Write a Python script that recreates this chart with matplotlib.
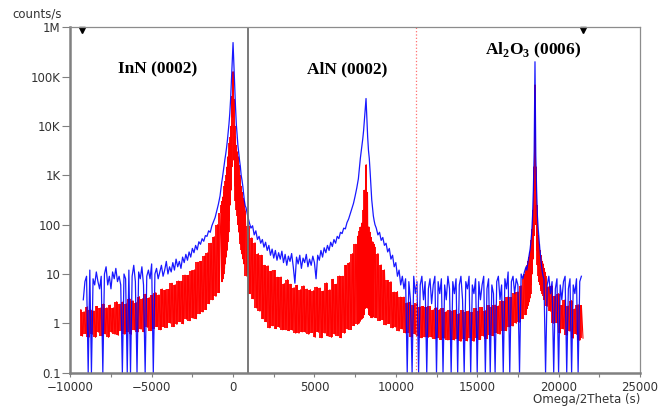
import numpy as np
import matplotlib.pyplot as plt

# scan segments: (first angle, step, counts/s) -- finer steps across the peaks
blue_left = [3, 7, 9, 0.1, 12, 0.1, 8, 6, 11, 7, 5, 9, 0.1, 10, 14, 6, 9, 5, 11, 8,
             13, 7, 9, 6, 0.1, 10, 8, 0.1, 12, 0.1, 9, 15, 7, 0.1, 11, 8, 14, 6, 0.1, 9,
             12, 8, 16, 0.1, 10, 13, 8, 11, 15, 9, 12, 18, 10, 14, 11, 17, 12, 20, 14, 18,
             13, 22, 17, 25, 19, 28, 22, 33, 27, 38, 31, 45, 40, 52, 46, 60, 58, 75, 70, 95,
             115, 140, 190, 260, 380]
blue_inn = [520, 700, 900, 1200, 1600, 2100, 2700, 3600, 5000, 7500, 11000, 18000, 35000,
            80000, 200000, 490000, 180000, 60000, 25000, 11000, 6500, 4000, 2800, 2000,
            1500, 1000, 800, 600, 420, 300, 240]
blue_mid = [220, 150, 110, 85, 95, 62, 75, 50, 58, 42, 50, 35, 44, 30, 38, 24, 32, 21, 30, 19,
            27, 20, 29, 17, 25, 15, 23, 18, 26, 14, 6.5, 22, 16, 24, 13, 21, 17, 25, 14, 20,
            15, 23, 17, 8, 24, 19, 30, 22, 34, 27, 38, 30, 44, 36, 50, 42, 58, 52, 70, 66,
            85, 82, 110, 130, 165, 210, 270, 380, 550, 850]
blue_aln = [1500, 2200, 3000, 4000, 5500, 8000, 13000, 22000, 36000, 15000, 6000, 3200,
            2200, 1200, 600, 320, 220, 150, 120, 100]
blue_flat = [85, 62, 70, 48, 55, 38, 42, 28, 33, 20, 24, 14, 17, 9, 12, 6, 9, 5, 8, 0.1,
             7, 3, 0.1, 9, 4, 7, 0.1, 6, 9, 3, 7, 0.1, 5, 8, 2.5, 6, 9, 0.1, 7, 4,
             8, 0.1, 6, 3, 9, 5, 0.1, 7, 4, 8, 0.1, 6, 9, 3, 0.1, 7, 5, 9, 0.1, 6,
             4, 8, 0.1, 7, 3, 6, 9, 0.1, 5, 8, 0.1, 6, 4, 0.1, 7, 9, 3, 6, 0.1, 8,
             5, 11, 0.1, 7, 9, 4, 8, 6, 0.1, 10, 8, 11, 14]
blue_sap = [12, 16, 20, 25, 32, 45, 70, 150, 500, 3000, 200000, 2500, 500, 150, 80, 50,
            32, 22, 15, 11, 9]
blue_right = [8, 0.1, 6, 9, 4, 7, 0.1, 5, 8, 0.1, 6, 3, 7, 9, 0.1, 5, 8, 0.1, 6, 4,
              8, 0.1, 7, 9]

red_left = [1.9, 0.55, 1.72, 0.62, 2.16, 0.52, 1.9, 0.6, 1.79, 0.52, 2.2, 0.66, 2.04, 0.56,
            2.46, 0.61, 2.07, 0.52, 2.35, 0.66, 2.06, 0.6, 2.75, 0.57, 2.44, 0.71, 2.75, 0.6,
            2.49, 0.67, 3.16, 0.6, 2.88, 0.74, 2.64, 0.67, 3.47, 0.76, 3.16, 0.66, 3.89, 0.83,
            3.33, 0.71, 3.72, 0.78, 4.2, 0.86, 3.78, 0.74, 4.97, 0.86, 4.75, 0.82, 4.86, 1.01,
            6.5, 0.86, 6.05, 0.95, 7.2, 1.08, 7.1, 0.98, 9.5, 1.21, 9.4, 1.13, 11.7, 1.26,
            12.2, 1.24, 17.3, 1.57, 18, 1.7, 23, 1.9, 27, 2.5, 42, 3.0, 57, 3.5, 100, 4.2, 170]
red_inn = [250, 7, 300, 8, 370, 10, 450, 13, 600, 16, 750, 22, 1000, 30, 1500, 45, 2400,
           70, 3000, 120, 4500, 250, 6000, 500, 10000, 1500, 40000, 15000, 126000, 20000,
           35000, 2000, 10000, 600, 6000, 300, 4000, 200, 3000, 150, 2400, 100, 1600, 70,
           1000, 50, 800, 40, 600, 30, 450, 25, 350, 20, 300, 16, 220]
red_mid = [190, 9, 95, 4, 54, 3.15, 43, 2.05, 26, 1.76, 24, 1.24, 15, 1.08, 14.7, 0.81, 11.4,
           0.89, 11.8, 0.78, 8.6, 0.83, 8.7, 0.74, 6.4, 0.74, 7.7, 0.71, 6.2, 0.73, 5.3, 0.63,
           5.9, 0.63, 4.8, 0.67, 5.75, 0.66, 4.95, 0.6, 4.8, 0.65, 4.6, 0.52, 5.4, 0.66, 5.2,
           0.51, 4.5, 0.63, 6.6, 0.55, 4.8, 0.52, 7.8, 0.61, 6.2, 0.56, 9.1, 0.51, 9.0, 0.63,
           15, 0.77, 17, 0.75, 26, 0.9, 40, 0.95]
red_aln = [60, 1.0, 75, 1.1, 90, 1.2, 110, 1.3, 200, 1.5, 500, 2, 1650, 3, 450, 2, 90,
           1.5, 70, 1.4, 55, 1.3, 45, 1.35, 40]
red_flat = [35, 1.3, 26, 1.14, 15.3, 1.19, 12.1, 0.93, 7.4, 0.99, 7.0, 0.81, 4.3, 0.84, 4.4,
            0.7, 3.4, 0.77, 3.4, 0.64, 2.6, 0.65, 2.75, 0.52, 2.3, 0.6, 2.6, 0.55, 2.15, 0.51,
            2.2, 0.53, 2.1, 0.52, 2.2, 0.53, 1.87, 0.49, 2.05, 0.51, 1.9, 0.47, 2.0, 0.5, 1.73,
            0.46, 1.84, 0.47, 1.76, 0.46, 1.87, 0.48, 1.58, 0.43, 1.84, 0.48, 1.7, 0.44, 1.79,
            0.51, 1.67, 0.43, 2.0, 0.5, 1.8, 0.47, 2.1, 0.55, 1.81, 0.49, 2.3, 0.58, 2.1, 0.56,
            2.35, 0.65, 2.25, 0.6, 2.9, 0.71, 2.85, 0.71, 3.45, 0.84, 3.35, 0.88, 4.2, 1.0,
            4.35, 1.05, 5.8, 1.25, 8]
red_sap = [10, 1.5, 11, 1.8, 13, 2.0, 15, 2.3, 18, 2.7, 22, 3.2, 28, 4, 36, 6, 50, 10, 80,
           20, 200, 60, 1500, 500, 68000, 800, 1500, 100, 250, 30, 100, 15, 60, 9, 40, 7,
           30, 6, 24, 5, 20, 4.5, 18, 4, 16, 3.5, 13, 3, 11]
red_right = [9, 2.2, 5.5, 1.76, 5.75, 1.0, 3.6, 1.03, 4.0, 0.64, 2.3, 0.77, 3.0, 0.57, 2.25,
             0.69, 2.9, 0.5, 1.95, 0.6, 2.4, 0.45, 2.3, 0.5]

blue_segs = [(-9200, 100, blue_left), (-750, 50, blue_inn), (800, 100, blue_mid),
             (7770, 50, blue_aln), (8800, 100, blue_flat), (18050, 50, blue_sap),
             (19100, 100, blue_right)]
red_segs = [(-9350, 100, red_left), (-700, 25, red_inn), (750, 100, red_mid),
            (7700, 40, red_aln), (8700, 100, red_flat), (17950, 25, red_sap),
            (19200, 100, red_right)]


def join(segs):
    xs = np.concatenate([s + d * np.arange(len(v)) for s, d, v in segs])
    ys = np.concatenate([np.array(v, float) for s, d, v in segs])
    return xs, ys


bx, by = join(blue_segs)
rx, ry = join(red_segs)

plt.rcParams['mathtext.fontset'] = 'custom'
plt.rcParams['mathtext.rm'] = 'Liberation Serif:bold'
fig = plt.figure(figsize=(6.58, 4.09), dpi=100)
ax = fig.add_axes([0.1068, 0.0888, 0.8658, 0.8445])

# the red scan is so dense it reads as a band: fill each step as a vertical stroke
ax.vlines(rx[:-1], np.minimum(ry[:-1], ry[1:]), np.maximum(ry[:-1], ry[1:]),
          color='#ff0000', lw=1.3)
ax.plot(rx, ry, color='#ff0000', lw=0.8)
ax.plot(bx, by, color='#0000ff', lw=0.9, alpha=0.9)
ax.axvline(940, color='#6e6e6e', lw=1.3)
ax.axvline(11220, color='#ff7070', lw=0.9, ls=':')
ax.plot([-9300, 21500], [9e5, 9e5], 'kv', ms=4.5, clip_on=False)

ax.set_yscale('log')
ax.set_xlim(-10000, 25000)
ax.set_ylim(0.1, 1e6)
ax.set_yticks([0.1, 1, 10, 100, 1e3, 1e4, 1e5, 1e6])
ax.set_yticklabels(['0.1', '1', '10', '100', '1K', '10K', '100K', '1M'])
ax.yaxis.set_minor_locator(plt.NullLocator())
ax.set_xticks(np.arange(-10000, 25001, 5000))
ax.set_xticks(np.arange(-7500, 25000, 5000), minor=True)
ax.tick_params(axis='y', length=6, width=0.8, color='#808080', pad=1,
               labelsize=8.5, labelcolor='#333333')
ax.tick_params(axis='x', which='both', length=3, width=0.8, color='#808080', pad=3,
               labelsize=8.5, labelcolor='#333333')
for side in ['left', 'bottom']:
    ax.spines[side].set_linewidth(1.8)
    ax.spines[side].set_color('#808080')
for side in ['top', 'right']:
    ax.spines[side].set_linewidth(0.9)
    ax.spines[side].set_color('#8c8c8c')

lab = dict(family='Liberation Serif', weight='bold', size=12.5, ha='center', va='center')
ax.text(-4640, 1.43e5, 'InN (0002)', **lab)
ax.text(7010, 1.43e5, 'AlN (0002)', **lab)
ax.text(18430, 3.36e5, r'Al$_2$O$_3$ (0006)', **lab)

fig.text(12 / 658, 1 - 14 / 409, 'counts/s', fontsize=8.5, color='#333333', va='center')
fig.text(640 / 658, 1 - 399 / 409, 'Omega/2Theta (s)', fontsize=8.5, color='#333333',
         ha='right', va='center')

fig.savefig('out.png', dpi=100)
